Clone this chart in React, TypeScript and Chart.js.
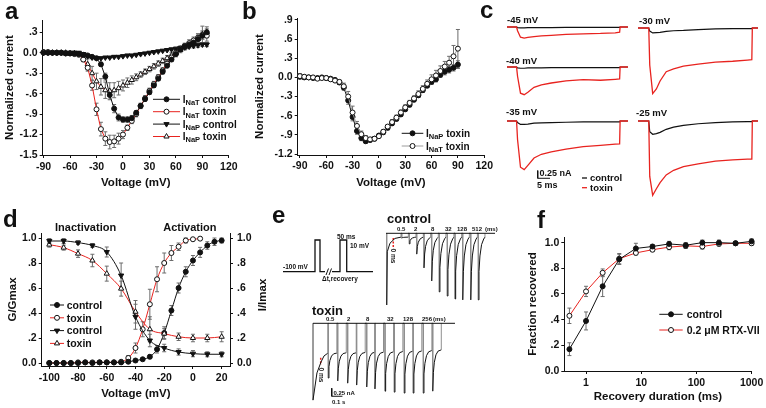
import React, { useEffect, useRef } from 'react';
import { Chart, registerables } from 'chart.js';

Chart.register(...registerables);

const FONT = "'Liberation Sans', Arial, Helvetica, sans-serif";
const INK = '#111111';
const RED = '#e8231f';
const ERR_COLOR = '#6c6c6c';
const SPIKE_GRAY = '#8e8e8e';
const LIGHT_LINE = '#9c9c9c';

// ===================== Panel a =====================
const voltageA = [-90, -85, -80, -75, -70, -65, -60, -55, -50, -45, -40, -35, -30, -25, -20, -15, -10, -5, 0, 5, 10, 15, 20, 25, 30, 35, 40, 45, 50, 55, 60, 65, 70, 75, 80, 85, 90, 95];
const iNaTControlA = [0, 0, 0, 0, 0, -0.01, -0.01, -0.01, -0.02, -0.03, -0.04, -0.06, -0.08, -0.17, -0.35, -0.62, -0.82, -0.95, -0.98, -0.98, -0.96, -0.88, -0.78, -0.68, -0.58, -0.48, -0.38, -0.28, -0.19, -0.1, -0.02, 0.05, 0.09, 0.12, 0.15, 0.2, 0.25, 0.3];
const iNaTControlErrA = [0.01, 0.01, 0.01, 0.01, 0.01, 0.01, 0.01, 0.01, 0.01, 0.01, 0.01, 0.01, 0.02, 0.03, 0.05, 0.07, 0.06, 0.05, 0.04, 0.04, 0.04, 0.03, 0.03, 0.03, 0.03, 0.03, 0.03, 0.03, 0.03, 0.03, 0.04, 0.04, 0.04, 0.04, 0.04, 0.04, 0.05, 0.05];
const iNaTToxinA = [0.01, 0.01, 0, 0, 0, -0.01, -0.01, -0.02, -0.03, -0.1, -0.22, -0.48, -0.83, -1.12, -1.26, -1.31, -1.3, -1.26, -1.2, -1.1, -1.0, -0.9, -0.78, -0.67, -0.56, -0.46, -0.36, -0.26, -0.16, -0.07, 0, 0.06, 0.1, 0.14, 0.18, 0.22, 0.26, 0.25];
const iNaTToxinErrA = [0.01, 0.01, 0.01, 0.01, 0.01, 0.01, 0.01, 0.01, 0.01, 0.03, 0.05, 0.07, 0.09, 0.1, 0.1, 0.1, 0.09, 0.08, 0.06, 0.04, 0.04, 0.04, 0.04, 0.04, 0.04, 0.04, 0.04, 0.04, 0.04, 0.04, 0.04, 0.04, 0.04, 0.05, 0.05, 0.06, 0.06, 0.08];
const iNaPControlA = [0, 0, 0, 0, 0, 0, 0, 0, 0, -0.02, -0.05, -0.07, -0.08, -0.08, -0.07, -0.07, -0.06, -0.06, -0.05, -0.04, -0.04, -0.03, -0.02, -0.01, 0, 0.01, 0.02, 0.03, 0.04, 0.05, 0.06, 0.07, 0.08, 0.09, 0.1, 0.11, 0.12, 0.12];
const iNaPControlErrA = [0.01, 0.01, 0.01, 0.01, 0.01, 0.01, 0.01, 0.01, 0.01, 0.015, 0.015, 0.015, 0.015, 0.015, 0.015, 0.015, 0.015, 0.015, 0.015, 0.015, 0.015, 0.015, 0.015, 0.015, 0.015, 0.015, 0.015, 0.015, 0.015, 0.015, 0.02, 0.02, 0.02, 0.02, 0.03, 0.03, 0.03, 0.03];
const iNaPToxinA = [0.01, 0, 0, 0, 0, 0, -0.01, -0.01, -0.02, -0.08, -0.17, -0.3, -0.42, -0.5, -0.55, -0.56, -0.55, -0.52, -0.48, -0.44, -0.4, -0.36, -0.32, -0.28, -0.24, -0.2, -0.16, -0.12, -0.08, -0.04, 0, 0.04, 0.08, 0.12, 0.16, 0.2, 0.27, 0.3];
const iNaPToxinErrA = [0.01, 0.01, 0.01, 0.01, 0.01, 0.01, 0.01, 0.01, 0.01, 0.05, 0.08, 0.1, 0.12, 0.12, 0.12, 0.12, 0.11, 0.1, 0.08, 0.07, 0.06, 0.05, 0.04, 0.04, 0.04, 0.04, 0.04, 0.04, 0.04, 0.04, 0.04, 0.04, 0.04, 0.04, 0.04, 0.06, 0.12, 0.08];
const currentTicksA = [-1.5, -1.2, -0.9, -0.6, -0.3, 0, 0.3];
const currentTickLabelsA = ['-1.5', '-1.2', '-.9', '-.6', '-.3', '0.0', '.3'];
const voltageTicks = [-90, -60, -30, 0, 30, 60, 90, 120];
const voltageTickLabels = ['-90', '-60', '-30', '0', '30', '60', '90', '120'];

// ===================== Panel b =====================
const voltageB = [-90, -85, -80, -75, -70, -65, -60, -55, -50, -45, -40, -35, -30, -25, -20, -15, -10, -5, 0, 5, 10, 15, 20, 25, 30, 35, 40, 45, 50, 55, 60, 65, 70, 75, 80, 85, 90];
const iNaPToxinB = [0.01, 0, 0, -0.01, -0.01, 0, -0.01, -0.02, -0.04, -0.08, -0.16, -0.36, -0.62, -0.84, -0.95, -1.0, -0.98, -0.96, -0.91, -0.86, -0.79, -0.72, -0.65, -0.58, -0.5, -0.43, -0.35, -0.28, -0.2, -0.13, -0.07, -0.03, 0.04, 0.09, 0.12, 0.15, 0.2];
const iNaPToxinErrB = [0.03, 0.03, 0.02, 0.02, 0.02, 0.02, 0.02, 0.02, 0.03, 0.03, 0.04, 0.06, 0.06, 0.05, 0.04, 0.03, 0.03, 0.03, 0.03, 0.03, 0.03, 0.03, 0.03, 0.03, 0.03, 0.03, 0.03, 0.03, 0.03, 0.03, 0.04, 0.04, 0.04, 0.05, 0.05, 0.05, 0.06];
const iNaTToxinB = [0.02, 0.01, 0, 0, -0.02, -0.01, -0.01, -0.03, -0.05, -0.07, -0.14, -0.3, -0.55, -0.76, -0.89, -0.95, -0.97, -0.96, -0.92, -0.85, -0.77, -0.7, -0.63, -0.55, -0.47, -0.4, -0.33, -0.26, -0.18, -0.1, -0.03, 0.03, 0.1, 0.17, 0.23, 0.33, 0.45];
const iNaTToxinErrB = [0.04, 0.03, 0.02, 0.02, 0.02, 0.02, 0.02, 0.02, 0.03, 0.03, 0.05, 0.08, 0.1, 0.07, 0.05, 0.04, 0.03, 0.03, 0.03, 0.03, 0.03, 0.04, 0.04, 0.04, 0.04, 0.04, 0.04, 0.05, 0.05, 0.06, 0.07, 0.08, 0.08, 0.08, 0.1, 0.17, 0.3];
const currentTicksB = [-1.2, -0.9, -0.6, -0.3, 0, 0.3, 0.6, 0.9];
const currentTickLabelsB = ['-1.2', '-.9', '-.6', '-.3', '0.0', '.3', '.6', '.9'];

// ===================== Panel c (current traces, nA vs ms) =====================
const traceTime = [-4.5, -0.1, 0.3, 1.5, 3, 4.5, 7, 10, 14, 20, 27, 34, 40, 41.8, 42, 45.2];
const m45Toxin = [0, 0, -0.12, -0.33, -0.36, -0.34, -0.31, -0.29, -0.27, -0.24, -0.22, -0.21, -0.19, -0.17, 0, 0];
const m45Control = [0, 0, -0.02, -0.03, -0.03, -0.02, -0.02, -0.02, -0.02, -0.01, -0.01, -0.01, -0.01, -0.01, 0, 0];
const m40Toxin = [0, 0, -0.3, -0.85, -0.9, -0.82, -0.66, -0.58, -0.52, -0.45, -0.41, -0.43, -0.4, -0.39, 0, 0];
const m40Control = [0, 0, -0.03, -0.04, -0.04, -0.03, -0.03, -0.03, -0.02, -0.02, -0.02, -0.02, -0.02, -0.02, 0, 0];
const m35Toxin = [0, 0, -0.6, -1.5, -1.58, -1.44, -1.2, -1.08, -1.0, -0.91, -0.83, -0.79, -0.75, -0.74, 0, 0];
const m35Control = [0, 0, -0.05, -0.11, -0.11, -0.1, -0.07, -0.06, -0.05, -0.04, -0.03, -0.03, -0.03, -0.03, 0, 0];
const m30Toxin = [0, 0, -1.2, -2.13, -1.98, -1.72, -1.42, -1.33, -1.24, -1.17, -1.11, -1.08, -1.04, -1.03, 0, 0];
const m30Control = [0, 0, -0.1, -0.16, -0.15, -0.14, -0.11, -0.09, -0.08, -0.05, -0.03, -0.02, -0.02, -0.02, 0, 0];
const m25Toxin = [0, 0, -1.8, -2.41, -2.2, -2.0, -1.75, -1.6, -1.48, -1.39, -1.3, -1.26, -1.24, -1.24, 0, 0];
const m25Control = [0, 0, -0.35, -0.43, -0.41, -0.37, -0.27, -0.2, -0.14, -0.09, -0.05, -0.03, -0.02, -0.02, 0, 0];
const scaleBarCTime = [8.5, 8.5, 13.5]; // 5 ms
const scaleBarCCurrent = [-1.61, -1.86, -1.86]; // 0.25 nA

// ===================== Panel d =====================
const actVoltCtl = [-100, -95, -90, -85, -80, -75, -70, -65, -60, -55, -50, -45, -40, -35, -30, -25, -20, -15, -10, -5, 0, 5, 10, 15, 20];
const actCtl = [0, 0, 0, 0, 0, 0.005, 0, 0.005, 0.005, 0.005, 0.005, 0.01, 0.02, 0.03, 0.05, 0.11, 0.24, 0.42, 0.6, 0.73, 0.82, 0.885, 0.94, 0.97, 0.98];
const actCtlErr = [0.005, 0.005, 0.005, 0.005, 0.005, 0.005, 0.005, 0.005, 0.005, 0.005, 0.005, 0.01, 0.01, 0.01, 0.015, 0.03, 0.05, 0.04, 0.04, 0.04, 0.04, 0.04, 0.03, 0.03, 0.02];
const actVoltTox = [-100, -95, -90, -85, -80, -75, -70, -65, -60, -55, -50, -45, -40, -35, -30, -25, -20, -15, -10, -5, 0, 5];
const actTox = [0, 0, 0, 0, 0.005, 0.005, 0.005, 0.005, 0.005, 0.005, 0.01, 0.04, 0.12, 0.27, 0.47, 0.67, 0.8, 0.88, 0.93, 0.98, 0.99, 0.995];
const actToxErr = [0.005, 0.005, 0.005, 0.005, 0.005, 0.005, 0.005, 0.005, 0.005, 0.005, 0.01, 0.02, 0.04, 0.06, 0.12, 0.1, 0.08, 0.06, 0.03, 0.02, 0.01, 0.01];
const inactVolt = [-100, -90, -80, -70, -60, -50, -40, -30, -20, -10, 0, 10, 20];
const inactCtl = [0.976, 0.976, 0.963, 0.94, 0.888, 0.7, 0.37, 0.18, 0.12, 0.088, 0.075, 0.07, 0.07];
const inactCtlErr = [0.02, 0.02, 0.015, 0.015, 0.04, 0.1, 0.1, 0.05, 0.03, 0.025, 0.025, 0.02, 0.02];
const inactTox = [0.947, 0.923, 0.875, 0.82, 0.715, 0.595, 0.41, 0.27, 0.235, 0.21, 0.2, 0.2, 0.21];
const inactToxErr = [0.02, 0.02, 0.03, 0.05, 0.06, 0.06, 0.09, 0.1, 0.04, 0.03, 0.03, 0.03, 0.04];
const voltageTicksD = [-100, -80, -60, -40, -20, 0, 20];
const voltageTickLabelsD = ['-100', '-80', '-60', '-40', '-20', '0', '20'];
const fractionTicks = [0, 0.2, 0.4, 0.6, 0.8, 1.0];
const fractionTickLabels = ['0.0', '.2', '.4', '.6', '.8', '1.0'];

// ===================== Panel e (recovery protocol traces) =====================
const protoTime1 = [0, 32, 32, 37, 37, 42];
const protoVolt1 = [-100, -100, 10, 10, -100, -100];
const protoTime2 = [49, 57, 57, 63.7, 63.7, 90];
const protoVolt2 = [-100, -100, 10, 10, -100, -100];
const breakTimeA = [43, 45.5];
const breakTimeB = [46, 48.5];
const breakVolt = [-111.5, -88.9];
const recoveryDt = [0, 6, 15, 30, 50];
const recoveryFrac = [1, 0.55, 0.3, 0.12, 0.03];
const ctrlTopTime = [0, 1019];
const ctrlFirstTime = [6.5, 6.5, 12, 37, 84, 140, 140];
const ctrlFirstCurrent = [0, -2.24, -0.575, -0.31, -0.16, -0.12, 0];
const ctrlSweepStart = [147, 218, 287, 355, 427, 498, 573, 645, 717, 792, 863];
const ctrlSweepPeak = [-0.15, -0.33, -0.65, -1.08, -1.49, -1.83, -1.96, -2.05, -2.08, -2.08, -2.08];
const ctrlSweepBase = [-0.12, -0.12, -0.12, -0.12, -0.12, -0.12, -0.12, -0.12, -0.12, -0.12, -0.12];
const ctrlZeroMarkTime = [68, 68];
const ctrlZeroMarkCurrent = [-0.15, -0.43];
const toxTopTime = [0, 1327];
const toxFirstTime = [0, 0, 37, 75, 103, 140, 140];
const toxFirstCurrent = [0, -2.4, -1.55, -1.21, -1.02, -0.93, 0];
const toxSweepStart = [143, 231, 324, 408, 502, 579, 673, 760, 853, 937, 1031, 1119];
const toxSweepPeak = [-1.71, -1.8, -1.87, -1.93, -1.99, -2.05, -2.12, -2.15, -2.18, -2.18, -2.18, -2.12];
const toxSweepBase = [-0.93, -0.92, -0.92, -0.91, -0.9, -0.9, -0.89, -0.88, -0.87, -0.86, -0.85, -0.83];
const toxZeroMarkTime = [72, 72];
const toxZeroMarkCurrent = [-1.08, -1.3];
const scaleBarETime = [175, 175, 275]; // 0.1 s
const scaleBarECurrent = [-2.03, -2.28, -2.28]; // 0.25 nA

// ===================== Panel f =====================
const recoveryMs = [0.5, 1, 2, 4, 8, 16, 32, 64, 128, 256, 512, 1000];
const fracControl = [0.17, 0.39, 0.66, 0.87, 0.955, 0.97, 0.99, 0.98, 1.0, 1.0, 0.995, 1.01];
const fracControlErr = [0.05, 0.07, 0.08, 0.04, 0.04, 0.015, 0.02, 0.02, 0.02, 0.02, 0.015, 0.02];
const fracRtx = [0.43, 0.62, 0.765, 0.875, 0.92, 0.945, 0.965, 0.975, 0.97, 0.99, 0.995, 0.995];
const fracRtxErr = [0.06, 0.04, 0.03, 0.04, 0.015, 0.015, 0.02, 0.02, 0.02, 0.015, 0.01, 0.015];
const recoveryTicks = [1, 10, 100, 1000];
const recoveryTickLabels = ['1', '10', '100', '1000'];

// ===================== helpers =====================
type Box = { L: number; T: number; W: number; H: number };
type Area = { l: number; t: number; r: number; b: number };

function drawMarker(ctx: CanvasRenderingContext2D, kind: string, x: number, y: number, r: number, filled: boolean) {
  ctx.save();
  ctx.beginPath();
  if (kind === 'circle') {
    ctx.arc(x, y, r, 0, Math.PI * 2);
  } else {
    let rad = kind === 'triangleDown' ? Math.PI : 0;
    ctx.moveTo(x + Math.sin(rad) * r, y - Math.cos(rad) * r);
    rad += (2 * Math.PI) / 3;
    ctx.lineTo(x + Math.sin(rad) * r, y - Math.cos(rad) * r);
    rad += (2 * Math.PI) / 3;
    ctx.lineTo(x + Math.sin(rad) * r, y - Math.cos(rad) * r);
    ctx.closePath();
  }
  ctx.fillStyle = filled ? INK : '#ffffff';
  ctx.fill();
  ctx.lineWidth = 1;
  ctx.strokeStyle = INK;
  ctx.stroke();
  ctx.restore();
}

const errorBarPlugin = {
  id: 'errorBars',
  beforeDatasetsDraw(chart: any) {
    const ctx = chart.ctx;
    chart.data.datasets.forEach((ds: any, i: number) => {
      const errs = ds.errorBars;
      if (!errs) return;
      const meta = chart.getDatasetMeta(i);
      const ys = chart.scales[meta.yAxisID];
      ctx.save();
      ctx.strokeStyle = ERR_COLOR;
      ctx.lineWidth = 1;
      meta.data.forEach((pt: any, j: number) => {
        const e = errs[j];
        if (!e) return;
        const v = ds.data[j].y;
        const y1 = ys.getPixelForValue(v + e);
        const y2 = ys.getPixelForValue(v - e);
        const x = pt.x;
        ctx.beginPath();
        ctx.moveTo(x, y1);
        ctx.lineTo(x, y2);
        ctx.moveTo(x - 2, y1);
        ctx.lineTo(x + 2, y1);
        ctx.moveTo(x - 2, y2);
        ctx.lineTo(x + 2, y2);
        ctx.stroke();
      });
      ctx.restore();
    });
  },
};

const richLegendPlugin = {
  id: 'richLegend',
  afterDraw(chart: any, _args: any, opts: any) {
    if (!opts || !opts.entries) return;
    const ctx = chart.ctx;
    ctx.save();
    opts.entries.forEach((e: any, i: number) => {
      const cy = opts.y + i * opts.rowH;
      ctx.strokeStyle = e.color;
      ctx.lineWidth = opts.lineWidth || 1;
      ctx.beginPath();
      ctx.moveTo(opts.x, cy);
      ctx.lineTo(opts.x + opts.lineLen, cy);
      ctx.stroke();
      if (e.marker) drawMarker(ctx, e.marker, opts.x + opts.lineLen / 2, cy, e.marker === 'circle' ? 2.5 : 3, !!e.filled);
      let tx = opts.x + opts.lineLen + opts.gap;
      ctx.fillStyle = INK;
      ctx.textBaseline = 'alphabetic';
      e.parts.forEach((p: any) => {
        const fs = p.sub ? opts.subSize : opts.size;
        ctx.font = `bold ${fs}px ${FONT}`;
        const by = cy + opts.size * 0.36 + (p.sub ? opts.size * 0.22 : 0);
        ctx.fillText(p.text, tx, by);
        tx += ctx.measureText(p.text).width;
      });
    });
    ctx.restore();
  },
};

function tickLabeler(ticks: number[], labels: string[]) {
  return (v: any) => {
    const i = ticks.findIndex((t) => Math.abs(t - Number(v)) < 1e-6);
    return i < 0 ? '' : labels[i];
  };
}

function axis(pos: string, spec: any, size: number) {
  return {
    type: spec.type || 'linear',
    position: pos,
    min: spec.min,
    max: spec.max,
    afterBuildTicks: (s: any) => {
      s.ticks = spec.ticks.map((v: number) => ({ value: v }));
    },
    afterFit: (s: any) => {
      if (pos === 'bottom') s.height = size;
      else s.width = size;
    },
    ticks: {
      autoSkip: false,
      maxRotation: 0,
      minRotation: 0,
      padding: spec.pad,
      color: INK,
      font: { family: FONT, size: 10.5, weight: 'bold' },
      callback: tickLabeler(spec.ticks, spec.labels),
    },
    grid: { display: true, drawOnChartArea: false, drawTicks: true, tickLength: 3, color: INK, lineWidth: 1 },
    border: { display: true, color: INK, width: 1 },
    title: spec.title
      ? { display: true, text: spec.title, color: INK, font: { family: FONT, size: 11.5, weight: 'bold' }, padding: { top: spec.titlePad || 0, bottom: 0 } }
      : { display: false },
  };
}

function series(xs: number[], ys: number[], errs: number[] | null, line: string, marker: string | null, filled: boolean, extra: any = {}) {
  return {
    data: xs.map((x, i) => ({ x, y: ys[i] })),
    borderColor: line,
    borderWidth: 1,
    pointStyle: marker === 'circle' ? 'circle' : 'triangle',
    pointRadius: marker ? (marker === 'circle' ? 2.5 : 3) : 0,
    pointRotation: marker === 'triangleDown' ? 180 : 0,
    pointBackgroundColor: filled ? INK : '#ffffff',
    pointBorderColor: INK,
    pointBorderWidth: 1,
    pointHoverRadius: 0,
    errorBars: errs,
    tension: 0,
    clip: false,
    ...extra,
  };
}

function plotConfig(box: Box, area: Area, datasets: any[], x: any, y: any, y2: any, legend: any) {
  const scales: any = {
    x: axis('bottom', x, box.T + box.H - area.b),
    y: axis('left', y, area.l - box.L),
  };
  if (y2) scales.y2 = axis('right', y2, box.L + box.W - area.r);
  return {
    type: 'line',
    data: { datasets },
    options: {
      responsive: false,
      animation: false,
      devicePixelRatio: 1,
      events: [],
      layout: { padding: { left: 0, bottom: 0, top: area.t - box.T, right: y2 ? 0 : box.L + box.W - area.r } },
      scales,
      plugins: { legend: { display: false }, tooltip: { enabled: false }, richLegend: legend },
    },
    plugins: [errorBarPlugin, richLegendPlugin],
  };
}

function traceConfig(xMin: number, xMax: number, yMin: number, yMax: number, datasets: any[], legend: any = null) {
  return {
    type: 'line',
    data: { datasets },
    options: {
      responsive: false,
      animation: false,
      devicePixelRatio: 1,
      events: [],
      layout: { padding: 0 },
      scales: {
        x: { type: 'linear', display: false, min: xMin, max: xMax },
        y: { type: 'linear', display: false, min: yMin, max: yMax },
      },
      plugins: { legend: { display: false }, tooltip: { enabled: false }, richLegend: legend },
    },
    plugins: [richLegendPlugin],
  };
}

function trace(xs: number[], ys: number[], color: string, extra: any = {}) {
  return {
    data: xs.map((x, i) => ({ x, y: ys[i] })),
    borderColor: color,
    borderWidth: 1,
    pointRadius: 0,
    pointHoverRadius: 0,
    tension: 0,
    clip: false,
    ...extra,
  };
}

function buildSweeps(firstT: number[], firstI: number[], starts: number[], peaks: number[], bases: number[], width: number) {
  const pts: { x: number; y: number }[] = firstT.map((t, i) => ({ x: t, y: firstI[i] }));
  starts.forEach((s, i) => {
    const b = bases[i];
    const p = peaks[i];
    pts.push({ x: s, y: 0 });
    recoveryDt.forEach((dt, k) => pts.push({ x: s + dt, y: b + recoveryFrac[k] * (p - b) }));
    pts.push({ x: s + width, y: b }, { x: s + width, y: 0 });
  });
  return pts;
}

const spikeSegment = {
  borderColor: (c: any) => (Math.abs(c.p0.parsed.x - c.p1.parsed.x) < 1e-6 ? SPIKE_GRAY : INK),
};

function ChartBox({ box, make }: { box: Box; make: () => any }) {
  const ref = useRef<HTMLCanvasElement>(null);
  useEffect(() => {
    const chart = new Chart(ref.current as HTMLCanvasElement, make());
    return () => chart.destroy();
  }, []);
  return (
    <canvas
      ref={ref}
      width={box.W}
      height={box.H}
      style={{ position: 'absolute', left: box.L, top: box.T, width: box.W, height: box.H }}
    />
  );
}

function Txt({ x, base, size, children, color = INK }: any) {
  return (
    <div
      style={{
        position: 'absolute',
        left: x,
        top: base - 0.8465 * size,
        fontFamily: FONT,
        fontSize: size,
        fontWeight: 'bold',
        lineHeight: 1,
        color,
        whiteSpace: 'nowrap',
      }}
    >
      {children}
    </div>
  );
}

function VTxt({ cx, cy, size, deg, children }: any) {
  return (
    <div style={{ position: 'absolute', left: cx, top: cy, width: 0, height: 0 }}>
      <div
        style={{
          position: 'absolute',
          left: 0,
          top: 0,
          transform: `translate(-50%, -50%) rotate(${deg}deg)`,
          fontFamily: FONT,
          fontSize: size,
          fontWeight: 'bold',
          lineHeight: 1,
          color: INK,
          whiteSpace: 'nowrap',
        }}
      >
        {children}
      </div>
    </div>
  );
}

// ===================== layout =====================
const boxA: Box = { L: 0, T: 0, W: 240, H: 190 };
const areaA: Area = { l: 42.7, t: 20, r: 230, b: 155 };
const boxB: Box = { L: 250, T: 0, W: 245, H: 190 };
const areaB: Area = { l: 297.7, t: 18, r: 488.3, b: 155 };
const boxD: Box = { L: 0, T: 200, W: 270, H: 201 };
const areaD: Area = { l: 41.7, t: 233, r: 230, b: 366 };
const boxF: Box = { L: 523, T: 200, W: 243, H: 204 };
const areaF: Area = { l: 564.3, t: 237, r: 751.7, b: 371 };

const C_PX_PER_MS = 2.46;
const C_PX_PER_NA = 30.8;
const C_LEFT = { L: 507, W: 121, pulse: 516.8 };
const C_RIGHT = { L: 638, W: 120, pulse: 649 };
const cPanels = [
  { col: C_LEFT, T: 22, H: 23, base: 27, tox: m45Toxin, ctl: m45Control },
  { col: C_LEFT, T: 62, H: 38, base: 67, tox: m40Toxin, ctl: m40Control },
  { col: C_LEFT, T: 116, H: 76, base: 121, tox: m35Toxin, ctl: m35Control, scale: true },
  { col: C_RIGHT, T: 23, H: 77, base: 28, tox: m30Toxin, ctl: m30Control },
  { col: C_RIGHT, T: 116, H: 84, base: 121, tox: m25Toxin, ctl: m25Control },
];

const E_PX_PER_MS = 0.107;
const E_PX_PER_NA = 32;
const boxECtl: Box = { L: 384, T: 229, W: 116, H: 80 };
const eCtlOrigin = { x: 386, y: 233.3 };
const boxETox: Box = { L: 311, T: 319, W: 146, H: 85 };
const eToxOrigin = { x: 313, y: 323.3 };
const boxProto: Box = { L: 283, T: 236, W: 90, H: 40 };
const PROTO_PX_PER_MV = 0.288;

function makeA() {
  return plotConfig(
    boxA,
    areaA,
    [
      series(voltageA, iNaTControlA, iNaTControlErrA, INK, 'circle', true),
      series(voltageA, iNaTToxinA, iNaTToxinErrA, RED, 'circle', false),
      series(voltageA, iNaPControlA, iNaPControlErrA, INK, 'triangleDown', true),
      series(voltageA, iNaPToxinA, iNaPToxinErrA, RED, 'triangle', false),
    ],
    { min: -91, max: 120, ticks: voltageTicks, labels: voltageTickLabels, title: 'Voltage (mV)', pad: 2.4 },
    { min: -1.5, max: 0.48, ticks: currentTicksA, labels: currentTickLabelsA, title: 'Normalized current', titlePad: 3.1, pad: 2 },
    null,
    {
      x: 153,
      y: 99.3,
      rowH: 12.4,
      lineLen: 27,
      gap: 2.7,
      size: 10,
      subSize: 7.5,
      entries: [
        { color: INK, marker: 'circle', filled: true, parts: [{ text: 'I' }, { text: 'NaT', sub: true }, { text: ' control' }] },
        { color: RED, marker: 'circle', filled: false, parts: [{ text: 'I' }, { text: 'NaT', sub: true }, { text: ' toxin' }] },
        { color: INK, marker: 'triangleDown', filled: true, parts: [{ text: 'I' }, { text: 'NaP', sub: true }, { text: ' control' }] },
        { color: RED, marker: 'triangle', filled: false, parts: [{ text: 'I' }, { text: 'NaP', sub: true }, { text: ' toxin' }] },
      ],
    }
  );
}

function makeB() {
  return plotConfig(
    boxB,
    areaB,
    [
      series(voltageB, iNaTToxinB, iNaTToxinErrB, LIGHT_LINE, 'circle', false),
      series(voltageB, iNaPToxinB, iNaPToxinErrB, INK, 'circle', true),
    ],
    { min: -92.5, max: 120, ticks: voltageTicks, labels: voltageTickLabels, title: 'Voltage (mV)', pad: 2 },
    { min: -1.215, max: 0.93, ticks: currentTicksB, labels: currentTickLabelsB, title: 'Normalized current', titlePad: 3.1, pad: 2 },
    null,
    {
      x: 151.7,
      y: 133.3,
      rowH: 12.7,
      lineLen: 21.6,
      gap: 2.7,
      size: 10,
      subSize: 7.5,
      entries: [
        { color: INK, marker: 'circle', filled: true, parts: [{ text: 'I' }, { text: 'NaP', sub: true }, { text: ' toxin' }] },
        { color: LIGHT_LINE, marker: 'circle', filled: false, parts: [{ text: 'I' }, { text: 'NaT', sub: true }, { text: ' toxin' }] },
      ],
    }
  );
}

function makeD() {
  const smooth = { cubicInterpolationMode: 'monotone' };
  return plotConfig(
    boxD,
    areaD,
    [
      series(inactVolt, inactCtl, inactCtlErr, INK, 'triangleDown', true, smooth),
      series(inactVolt, inactTox, inactToxErr, RED, 'triangle', false, smooth),
      series(actVoltCtl, actCtl, actCtlErr, INK, 'circle', true, smooth),
      series(actVoltTox, actTox, actToxErr, RED, 'circle', false, smooth),
    ],
    { min: -105.3, max: 25.8, ticks: voltageTicksD, labels: voltageTickLabelsD, title: 'Voltage (mV)', pad: 2.7 },
    { min: -0.024, max: 1.04, ticks: fractionTicks, labels: fractionTickLabels, title: 'G/Gmax', titlePad: 6.1, pad: 2 },
    { min: -0.024, max: 1.04, ticks: fractionTicks, labels: fractionTickLabels, pad: 4 },
    {
      x: 50,
      y: 105,
      rowH: 12.8,
      lineLen: 14,
      gap: 2.7,
      size: 10.5,
      subSize: 8,
      entries: [
        { color: INK, marker: 'circle', filled: true, parts: [{ text: 'control' }] },
        { color: RED, marker: 'circle', filled: false, parts: [{ text: 'toxin' }] },
        { color: INK, marker: 'triangleDown', filled: true, parts: [{ text: 'control' }] },
        { color: RED, marker: 'triangle', filled: false, parts: [{ text: 'toxin' }] },
      ],
    }
  );
}

function makeF() {
  return plotConfig(
    boxF,
    areaF,
    [
      series(recoveryMs, fracControl, fracControlErr, INK, 'circle', true),
      series(recoveryMs, fracRtx, fracRtxErr, RED, 'circle', false),
    ],
    { type: 'logarithmic', min: 0.404, max: 1000, ticks: recoveryTicks, labels: recoveryTickLabels, title: 'Recovery duration (ms)', pad: 2.7 },
    { min: 0, max: 1.044, ticks: fractionTicks, labels: fractionTickLabels, title: 'Fraction recovered', titlePad: 3.1, pad: 2 },
    null,
    {
      x: 136.3,
      y: 114.3,
      rowH: 15.7,
      lineLen: 23.4,
      gap: 4,
      size: 10.5,
      subSize: 8,
      entries: [
        { color: INK, marker: 'circle', filled: true, parts: [{ text: 'control' }] },
        { color: RED, marker: 'circle', filled: false, parts: [{ text: '0.2 \u03bcM RTX-VII' }] },
      ],
    }
  );
}

function makeC(p: any) {
  return () => {
    const xMin = -(p.col.pulse - p.col.L) / C_PX_PER_MS;
    const xMax = (p.col.L + p.col.W - p.col.pulse) / C_PX_PER_MS;
    const yMax = (p.base - p.T) / C_PX_PER_NA;
    const yMin = -(p.T + p.H - p.base) / C_PX_PER_NA;
    const ds: any[] = [trace(traceTime, p.tox, RED, { borderWidth: 1.3 }), trace(traceTime, p.ctl, INK, { borderWidth: 1.2 })];
    let legend = null;
    if (p.scale) {
      ds.push(trace(scaleBarCTime, scaleBarCCurrent, INK));
      legend = {
        x: 75,
        y: 62,
        rowH: 9.7,
        lineLen: 5,
        gap: 3,
        size: 9.5,
        subSize: 7,
        lineWidth: 1.3,
        entries: [
          { color: INK, parts: [{ text: 'control' }] },
          { color: RED, parts: [{ text: 'toxin' }] },
        ],
      };
    }
    return traceConfig(xMin, xMax, yMin, yMax, ds, legend);
  };
}

function makeProto() {
  const yMax = 10 + (240 - boxProto.T) / PROTO_PX_PER_MV;
  const yMin = -100 - (boxProto.T + boxProto.H - 271.7) / PROTO_PX_PER_MV;
  return traceConfig(0, boxProto.W, yMin, yMax, [
    trace(protoTime1, protoVolt1, INK, { borderWidth: 1.3 }),
    trace(protoTime2, protoVolt2, INK, { borderWidth: 1.3 }),
    trace(breakTimeA, breakVolt, INK, { borderWidth: 1 }),
    trace(breakTimeB, breakVolt, INK, { borderWidth: 1 }),
  ]);
}

function makeECtl() {
  const b = boxECtl;
  const o = eCtlOrigin;
  return traceConfig(
    -(o.x - b.L) / E_PX_PER_MS,
    (b.L + b.W - o.x) / E_PX_PER_MS,
    -(b.T + b.H - o.y) / E_PX_PER_NA,
    (o.y - b.T) / E_PX_PER_NA,
    [
      trace(ctrlTopTime, [0, 0], INK),
      {
        ...trace([], [], INK),
        data: buildSweeps(ctrlFirstTime, ctrlFirstCurrent, ctrlSweepStart, ctrlSweepPeak, ctrlSweepBase, 62),
        segment: spikeSegment,
      },
      trace(ctrlZeroMarkTime, ctrlZeroMarkCurrent, RED, { borderWidth: 1.5, borderDash: [2, 1.5] }),
    ]
  );
}

function makeETox() {
  const b = boxETox;
  const o = eToxOrigin;
  return traceConfig(
    -(o.x - b.L) / E_PX_PER_MS,
    (b.L + b.W - o.x) / E_PX_PER_MS,
    -(b.T + b.H - o.y) / E_PX_PER_NA,
    (o.y - b.T) / E_PX_PER_NA,
    [
      trace(toxTopTime, [0, 0], INK),
      {
        ...trace([], [], INK),
        data: buildSweeps(toxFirstTime, toxFirstCurrent, toxSweepStart, toxSweepPeak, toxSweepBase, 80),
        segment: spikeSegment,
      },
      trace(toxZeroMarkTime, toxZeroMarkCurrent, RED, { borderWidth: 1.5, borderDash: [2, 1.5] }),
      trace(scaleBarETime, scaleBarECurrent, INK),
    ]
  );
}

export default function App() {
  return (
    <div style={{ position: 'absolute', left: 0, top: 0, width: 766, height: 408, background: '#ffffff', overflow: 'hidden' }}>
      <ChartBox box={boxA} make={makeA} />
      <ChartBox box={boxB} make={makeB} />
      {cPanels.map((p, i) => (
        <ChartBox key={i} box={{ L: p.col.L, T: p.T, W: p.col.W, H: p.H }} make={makeC(p)} />
      ))}
      <ChartBox box={boxD} make={makeD} />
      <ChartBox box={boxProto} make={makeProto} />
      <ChartBox box={boxECtl} make={makeECtl} />
      <ChartBox box={boxETox} make={makeETox} />
      <ChartBox box={boxF} make={makeF} />

      {/* panel letters */}
      <Txt x={5} base={19} size={24}>a</Txt>
      <Txt x={242} base={19} size={24}>b</Txt>
      <Txt x={480} base={18.3} size={24}>c</Txt>
      <Txt x={3} base={227} size={24}>d</Txt>
      <Txt x={272} base={223} size={24}>e</Txt>
      <Txt x={537} base={228} size={24}>f</Txt>

      {/* panel c labels */}
      <Txt x={507} base={23} size={9.5}>-45 mV</Txt>
      <Txt x={506} base={64} size={9.5}>-40 mV</Txt>
      <Txt x={506} base={115} size={9.5}>-35 mV</Txt>
      <Txt x={639} base={24} size={9.5}>-30 mV</Txt>
      <Txt x={636} base={116} size={9.5}>-25 mV</Txt>
      <Txt x={539.5} base={177} size={9}>0.25 nA</Txt>
      <Txt x={537} base={189} size={9}>5 ms</Txt>

      {/* panel d labels */}
      <Txt x={55} base={231.7} size={11}>Inactivation</Txt>
      <Txt x={163.3} base={231.7} size={11}>Activation</Txt>
      <VTxt cx={263} cy={295} size={11.5} deg={-90}>I/Imax</VTxt>

      {/* panel e labels */}
      <Txt x={387} base={223.5} size={13}>control</Txt>
      <Txt x={312} base={315} size={13}>toxin</Txt>
      <Txt x={397} base={231.5} size={6}>0.5</Txt>
      <Txt x={414} base={231.5} size={6}>2</Txt>
      <Txt x={431} base={231.5} size={6}>8</Txt>
      <Txt x={445} base={231.5} size={6}>32</Txt>
      <Txt x={457} base={231.5} size={6}>128</Txt>
      <Txt x={472} base={231.5} size={6}>512</Txt>
      <Txt x={485} base={231.5} size={6}>(ms)</Txt>
      <Txt x={326} base={321.5} size={6}>0.5</Txt>
      <Txt x={347} base={321.5} size={6}>2</Txt>
      <Txt x={366} base={321.5} size={6}>8</Txt>
      <Txt x={387} base={321.5} size={6}>32</Txt>
      <Txt x={403} base={321.5} size={6}>128</Txt>
      <Txt x={422} base={321.5} size={6}>256</Txt>
      <Txt x={433} base={321.5} size={6}>(ms)</Txt>
      <Txt x={283} base={269.5} size={6.5}>-100 mV</Txt>
      <Txt x={337} base={240} size={6.5}>50 ms</Txt>
      <Txt x={350} base={249} size={6.5}>10 mV</Txt>
      <Txt x={322} base={282} size={6.5}>Δt,recovery</Txt>
      <VTxt cx={393.3} cy={255.5} size={6.5} deg={90}>0 ms</VTxt>
      <VTxt cx={320.7} cy={374.5} size={6.5} deg={90}>0 ms</VTxt>
      <Txt x={333.5} base={395} size={6}>0.25 nA</Txt>
      <Txt x={332} base={404} size={6}>0.1 s</Txt>
    </div>
  );
}
